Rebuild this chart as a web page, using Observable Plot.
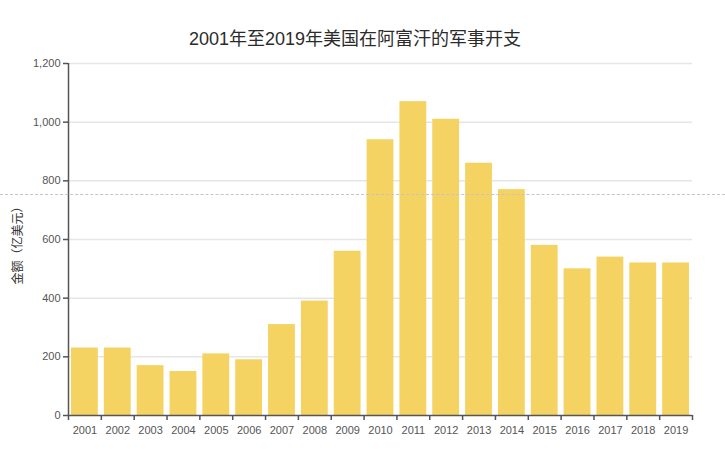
<!DOCTYPE html>
<html>
<head>
<meta charset="utf-8">
<script src="https://cdn.jsdelivr.net/npm/d3@7"></script>
<script src="https://cdn.jsdelivr.net/npm/@observablehq/plot@0.6"></script>
<style>
  html, body { margin: 0; padding: 0; background: #fff; }
  #wrap { position: relative; width: 725px; height: 449px; font-family: "Liberation Sans", "Noto Sans CJK SC", sans-serif; }
  #title { position: absolute; left: 0; top: 24px; width: 710px; text-align: center; font-size: 18px; color: #2b2b2b; font-family: "Liberation Sans", "Noto Sans CJK SC", sans-serif; }
  #fold { position: absolute; left: 0; top: 194px; width: 725px; border-top: 1px dashed #c4c4c4; }
  svg { display: block; }
</style>
</head>
<body>
<div id="wrap">
  <div id="chart"></div>
  <div id="title">2001年至2019年美国在阿富汗的军事开支</div>
  <div id="fold"></div>
</div>
<script>
const years = [2001,2002,2003,2004,2005,2006,2007,2008,2009,2010,2011,2012,2013,2014,2015,2016,2017,2018,2019];
const spending = [230,230,170,150,210,190,310,390,560,940,1070,1010,860,770,580,500,540,520,520];
const yTicks = [0,200,400,600,800,1000,1200];
const yLabel = "金额（亿美元）";

const data = years.map((y, i) => ({year: y, value: spending[i]}));
const boundaries = years.map(y => y - 0.5).concat([years[years.length - 1] + 0.5]);

const chart = Plot.plot({
  width: 725,
  height: 449,
  marginLeft: 68,
  marginRight: 33,
  marginTop: 63,
  marginBottom: 34,
  style: {fontFamily: "'Liberation Sans', 'Noto Sans CJK SC', sans-serif", fontSize: "11px", color: "#555", background: "#fff"},
  x: {type: "linear", domain: [years[0] - 0.5, years[years.length - 1] + 0.5]},
  y: {domain: [0, 1200]},
  marks: [
    Plot.gridY(yTicks.slice(1), {stroke: "#e6e6e6", strokeOpacity: 1, strokeWidth: 1.5}),
    Plot.rectY(data, {x1: d => d.year - 0.5, x2: d => d.year + 0.5, y: "value", fill: "#f5d362", insetLeft: 3, insetRight: 3}),
    Plot.axisY({ticks: yTicks, tickFormat: d3.format(","), tickSize: 5, tickPadding: 3, stroke: "#555", strokeWidth: 1.5, fill: "#555", label: null}),
    Plot.axisX({ticks: years, tickFormat: d => String(d), tickSize: 0, tickPadding: 11, fill: "#555", label: null}),
    Plot.axisX({ticks: boundaries, tickSize: 5, text: null, stroke: "#555", strokeWidth: 1.5, label: null}),
    Plot.ruleY([0], {stroke: "#555", strokeWidth: 1.5}),
    Plot.ruleX([years[0] - 0.5], {stroke: "#555", strokeWidth: 1.5}),
    Plot.text([yLabel], {frameAnchor: "left", dx: -50, dy: 3, rotate: -90, textAnchor: "middle", fontSize: 12, fill: "#333", text: d => d})
  ]
});
document.getElementById("chart").appendChild(chart);
</script>
</body>
</html>
